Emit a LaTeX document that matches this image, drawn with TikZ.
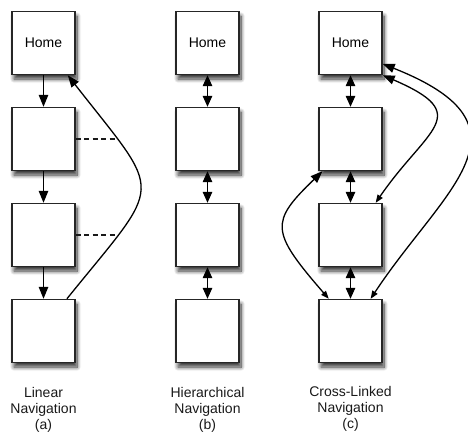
\documentclass[tikz,border=0pt]{standalone}
\usepackage{fontspec}
\setmainfont{Liberation Sans}
\usetikzlibrary{arrows.meta,shadows.blur}
\begin{document}
\begin{tikzpicture}[x=1bp,y=-1bp,
  page/.style={draw=black!85, line width=1.4bp, fill=white,
    minimum width=63bp, minimum height=63bp, inner sep=0pt,
    blur shadow={shadow xshift=2bp, shadow yshift=-4.5bp, shadow blur steps=10, shadow blur radius=4bp, shadow opacity=80},
    font=\fontsize{14bp}{16bp}\selectfont},
  caption/.style={anchor=north, align=center, inner sep=0pt, text=black!90,
    font=\fontsize{14bp}{16bp}\selectfont},
  link/.style={line width=1.3bp, draw=black},
  one/.style={link, -{Triangle[length=12bp,width=9.5bp]}},
  two/.style={link, {Triangle[length=11bp,width=9.5bp]}-{Triangle[length=11bp,width=9.5bp]}},
  curvy/.style={link, -{Triangle[length=12bp, width=9bp]}},
  curvytwo/.style={link, {Triangle[length=8bp,width=6bp]}-{Triangle[length=12bp,width=9bp]}},
  dashlink/.style={line width=1.1bp, draw=black!90, dash pattern=on 5bp off 3.5bp}
]
\useasboundingbox (0,0) rectangle (468,432);

% column (a)
\node[page] (a1) at (43.5,43) {Home};
\node[page] (a2) at (43.5,139) {};
\node[page] (a3) at (43.5,235) {};
\node[page] (a4) at (43.5,331) {};
\draw[one] (a1.south) -- (a2.north);
\draw[one] (a2.south) -- (a3.north);
\draw[one] (a3.south) -- (a4.north);
\draw[curvy] (a4.54) .. controls (164.5,178) and (164.5,199) .. (a1.-53);
\coordinate (d1) at (116,139);
\coordinate (d2) at (118,235);
\draw[dashlink] (a2.east) -- (a2.east -| d1);
\draw[dashlink] (a3.east) -- (a3.east -| d2);
\node[caption] (la) at (43.5,387.5) {Linear\\Navigation\\(a)};

% column (b)
\node[page] (b1) at (207.5,43) {Home};
\node[page] (b2) at (207.5,139) {};
\node[page] (b3) at (207.5,235) {};
\node[page] (b4) at (207.5,331) {};
\draw[two] (b1.south) -- (b2.north);
\draw[two] (b2.south) -- (b3.north);
\draw[two] (b3.south) -- (b4.north);
\node[caption] (lb) at (207.5,387.5) {Hierarchical\\Navigation\\(b)};

% column (c)
\node[page] (c1) at (350.5,43) {Home};
\node[page] (c2) at (350.5,139) {};
\node[page] (c3) at (350.5,235) {};
\node[page] (c4) at (350.5,331) {};
\draw[two] (c1.south) -- (c2.north);
\draw[two] (c2.south) -- (c3.north);
\draw[two] (c3.south) -- (c4.north);
\draw[curvytwo] (c4.124) .. controls (270,231) and (270,222) .. (c2.-131);
\draw[curvytwo] (c3.52) .. controls (427,128) and (475,115) .. (c1.south east);
\draw[curvytwo] (c4.58) .. controls (443,189) and (542,127) .. (c1.-33);
\node[caption] (lc) at (350.5,386.5) {Cross-Linked\\Navigation\\(c)};
\end{tikzpicture}
\end{document}
